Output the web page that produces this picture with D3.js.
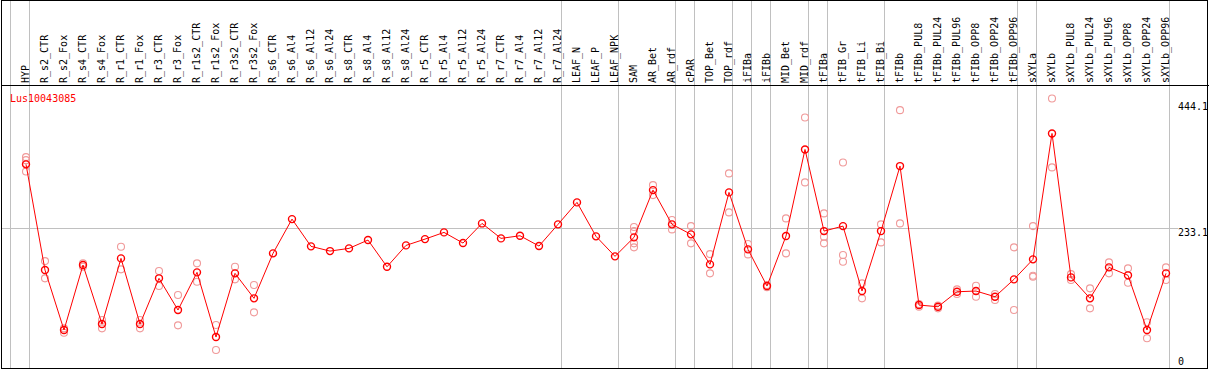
<html>
<head>
<script src="https://d3js.org/d3.v7.min.js"></script>
<style>
body { margin: 0; background: #fff; }
text { font-family: "DejaVu Sans Mono", monospace; font-size: 10px; }
</style>
</head>
<body>
<div id="plot"></div>
<script>

var width = 1209;
var height = 370;

var geneName = "Lus10043085";

var samples = ["HYP", "R_s2_CTR", "R_s2_Fox", "R_s4_CTR", "R_s4_Fox", "R_r1_CTR", "R_r1_Fox",
  "R_r3_CTR", "R_r3_Fox", "R_r1s2_CTR", "R_r1s2_Fox", "R_r3s2_CTR", "R_r3s2_Fox",
  "R_s6_CTR", "R_s6_Al4", "R_s6_Al12", "R_s6_Al24", "R_s8_CTR", "R_s8_Al4", "R_s8_Al12", "R_s8_Al24",
  "R_r5_CTR", "R_r5_Al4", "R_r5_Al12", "R_r5_Al24", "R_r7_CTR", "R_r7_Al4", "R_r7_Al12", "R_r7_Al24",
  "LEAF_N", "LEAF_P", "LEAF_NPK", "SAM", "AR_Bet", "AR_rdf", "cPAR", "TOP_Bet", "TOP_rdf",
  "iFIBa", "iFIBb", "MID_Bet", "MID_rdf", "tFIBa", "tFIB_Gr", "tFIB_Li", "tFIB_Bi",
  "tFIBb", "tFIBb_PUL8", "tFIBb_PUL24", "tFIBb_PUL96", "tFIBb_OPP8", "tFIBb_OPP24", "tFIBb_OPP96",
  "sXYLa", "sXYLb", "sXYLb_PUL8", "sXYLb_PUL24", "sXYLb_PUL96", "sXYLb_OPP8", "sXYLb_OPP24", "sXYLb_OPP96"];

// number of samples in each block, separated by grey lines
var groupSizes = [1, 28, 3, 3, 1, 2, 1, 1, 2, 1, 3, 7, 1, 7];

var means = [340, 163.5, 63.4, 171.9, 73.4, 183.0, 73.4, 149.7, 96.8, 159.7, 51.7, 158.0, 116.3,
  191.4, 248.6, 203.1, 195.2, 199.7, 213.6, 169.0, 204.7, 215.2, 226.4, 208.6, 241.4,
  216.4, 220.8, 203.6, 239.8, 276.5, 219.8, 186.4, 218.1, 297.0, 239.8, 223.1, 173.0, 293.2,
  198.1, 136.8, 220.3, 364.9, 228.6, 236.9, 128.5, 228.6, 337.1, 105.1, 102.3, 127.3, 128.5,
  119.0, 148.0, 181.4, 391.6, 151.3, 116.3, 168.0, 154.7, 63.4, 158.0];

var replicates = [
  [352, 347, 341, 328], [178.5, 149.7], [66.2, 58.9], [174.7, 169.0], [80.1, 66.2],
  [202.4, 164.7], [80.1, 66.2], [161.9, 136.8], [121.8, 71.2], [174.7, 144.0],
  [71.7, 30.0], [169.0, 148.0], [138.5, 92.9],
  [], [], [], [], [], [], [], [], [], [], [], [], [], [], [], [],
  [], [], [],
  [235.3, 228.6, 208.1, 201.4], [305.4, 288.7], [247.0, 231.4], [236.9, 208.1],
  [190.2, 158.0], [324.9, 259.8], [206.9, 189.7], [138.5, 134.7], [249.8, 191.4],
  [418.3, 309.9], [258.1, 219.1, 208.1], [343.2, 188.6, 177.4], [141.3, 116.3],
  [239.8, 209.7], [430.5, 241.4], [106.8, 102.3], [104.3, 99.6], [131.3, 123.5],
  [137.3, 119.0], [123.5, 113.5], [201.4, 96.8], [236.9, 154.0, 152.3],
  [450.0, 334.9], [156.8, 146.8], [133.0, 99.6], [176.4, 158.0], [166.4, 142.3],
  [76.3, 49.6], [168.0, 146.8]];

var yTicks = [0, 233.1, 444.1];

var svg = d3.select("#plot").append("svg")
  .attr("width", width).attr("height", height);

var xScale = d3.scaleBand().domain(samples).range([11, 1170]).padding(0);
var yScale = d3.scaleLinear().domain([0, 444.1]).range([368, 102]);

function px(name) { return xScale(name) + 15; }

// grey separators between sample blocks
var breaks = [0];
var acc = 0;
groupSizes.forEach(function (n) { acc += n; breaks.push(acc); });

svg.selectAll("line.sep").data(breaks).enter().append("line")
  .attr("class", "sep")
  .attr("x1", function (b) { return Math.round(11 + b * xScale.bandwidth()) - 0.5; })
  .attr("x2", function (b) { return Math.round(11 + b * xScale.bandwidth()) - 0.5; })
  .attr("y1", 0).attr("y2", 368)
  .style("stroke", "#c0c0c0");

// gridline at middle tick
svg.append("line")
  .attr("x1", 1).attr("x2", 1178)
  .attr("y1", Math.round(yScale(233.1)) + 0.5).attr("y2", Math.round(yScale(233.1)) + 0.5)
  .style("stroke", "#c0c0c0");

// frame
svg.append("rect")
  .attr("x", 1.5).attr("y", 0.5).attr("width", 1206).attr("height", 368)
  .style("fill", "none").style("stroke", "#000");
svg.append("line")
  .attr("x1", 1).attr("x2", 1209).attr("y1", 85.5).attr("y2", 85.5)
  .style("stroke", "#000");

// column labels
svg.selectAll("text.col").data(samples).enter().append("text")
  .attr("class", "col")
  .attr("transform", function (d) { return "translate(" + (xScale(d) + 17.5) + ",83) rotate(-90)"; })
  .text(function (d) { return d; });

// right axis labels
svg.selectAll("text.tick").data(yTicks).enter().append("text")
  .attr("class", "tick")
  .attr("x", 1178)
  .attr("y", function (v) { return v === 0 ? yScale(v) - 3 : yScale(v) + 8; })
  .text(function (v) { return v; });

svg.append("text")
  .attr("x", 10).attr("y", 101.5)
  .style("fill", "red")
  .text(geneName);

// replicates
var reps = [];
replicates.forEach(function (arr, i) {
  arr.forEach(function (v) { reps.push({ name: samples[i], value: v }); });
});

svg.selectAll("circle.rep").data(reps).enter().append("circle")
  .attr("class", "rep")
  .attr("cx", function (d) { return px(d.name); })
  .attr("cy", function (d) { return yScale(d.value); })
  .attr("r", 3.5)
  .style("fill", "none").style("stroke", "#f09a9a").style("stroke-width", 1.1);

var line = d3.line()
  .x(function (d, i) { return px(samples[i]); })
  .y(function (d) { return yScale(d); });

svg.append("path").datum(means)
  .attr("d", line)
  .style("fill", "none").style("stroke", "red").style("stroke-width", 1);

svg.selectAll("circle.mean").data(means).enter().append("circle")
  .attr("class", "mean")
  .attr("cx", function (d, i) { return px(samples[i]); })
  .attr("cy", function (d) { return yScale(d); })
  .attr("r", 3.5)
  .style("fill", "none").style("stroke", "red").style("stroke-width", 1.4);

</script>
</body>
</html>
